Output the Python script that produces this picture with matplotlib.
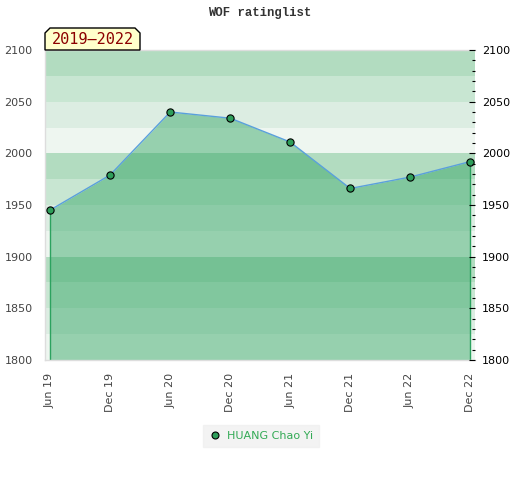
import datetime as dt
import matplotlib
matplotlib.use("Agg")
import matplotlib.pyplot as plt
from matplotlib.patches import Polygon
from matplotlib.lines import Line2D

# ratings
dates = [dt.date(2019, 6, 1), dt.date(2019, 12, 1), dt.date(2020, 6, 1), dt.date(2020, 12, 1),
         dt.date(2021, 6, 1), dt.date(2021, 12, 1), dt.date(2022, 6, 1), dt.date(2022, 12, 1)]
ratings = [1945, 1979, 2040, 2034, 2011, 1966, 1977, 1992]
tick_labels = ["Jun 19", "Dec 19", "Jun 20", "Dec 20", "Jun 21", "Dec 21", "Jun 22", "Dec 22"]
player = "HUANG Chao Yi"
period = "2019\u20132022"
title = "WOF ratinglist"

y_min, y_max = 1800, 2100
band_colors = ["#eef6f0", "#dcede2", "#c8e6d2", "#b2dcc0"]
fill_color = "#2ca25f"
line_color = "#5aa0dc"

fig = plt.figure(figsize=(5.2, 4.8), dpi=100)
ax = fig.add_axes([45 / 520, 120 / 480, 430 / 520, 310 / 480])

# striped background
for i, y0 in enumerate(range(y_min, y_max, 25)):
    ax.axhspan(y0, y0 + 25, color=band_colors[i % 4], lw=0, zorder=0)

# area under the curve
ax.fill_between(dates, ratings, y_min, color=fill_color, alpha=0.45, lw=0, zorder=1)
ax.vlines([dates[0], dates[-1]], y_min, [ratings[0], ratings[-1]], color=fill_color, lw=1, zorder=2)
ax.plot(dates, ratings, color=line_color, lw=1, zorder=3)
ax.plot(dates, ratings, ls="none", marker="o", ms=5.2, mfc="#2e9e5a", mec="black", mew=0.8, zorder=4)

ax.set_xlim(dates[0] - dt.timedelta(days=15), dates[-1] + dt.timedelta(days=15))
ax.set_ylim(y_min, y_max)
ax.set_xticks(dates)
ax.set_xticklabels(tick_labels, rotation=90)
ax.tick_params(axis="x", length=0, pad=9, labelsize=8, labelcolor="#444444")
ax.set_yticks(range(y_min, y_max + 1, 50))
ax.tick_params(axis="y", length=0, pad=9, labelsize=8, labelcolor="#444444")
for s in ax.spines.values():
    s.set_color("#dddddd")
    s.set_linewidth(1)
ax.spines["right"].set_visible(False)

ax2 = ax.twinx()
ax2.set_ylim(y_min, y_max)
ax2.set_yticks(range(y_min, y_max + 1, 50))
ax2.set_yticks(range(y_min, y_max + 1, 10), minor=True)
ax2.tick_params(axis="y", which="major", direction="in", length=4.5, width=0.8, pad=5,
                labelsize=8, labelcolor="black")
ax2.tick_params(axis="y", which="minor", direction="in", length=2.2, width=0.8)
for s in ax2.spines.values():
    s.set_visible(False)

fig.text(0.5, 1 - 13 / 480, title, ha="center", va="center", fontsize=8.8,
         family="Liberation Mono", weight="bold", color="#333333")

# period tag with chamfered top corners
px = [45, 45, 50, 135, 140, 140]
py = [50, 33, 28, 28, 33, 50]
tag = Polygon([(x / 520, 1 - y / 480) for x, y in zip(px, py)], closed=True,
              transform=fig.transFigure, facecolor="#ffffcc", edgecolor="black", lw=1)
fig.patches.append(tag)
fig.text(92.5 / 520, 1 - 40 / 480, period, ha="center", va="center", fontsize=11,
         family="DejaVu Sans Mono", color="#8b0000")

handle = Line2D([], [], ls="none", marker="o", ms=5, mfc="#2e9e5a", mec="black", mew=0.8)
leg = fig.legend([handle], [player], loc="center", bbox_to_anchor=(261 / 520, 1 - 436 / 480),
                 frameon=True, fontsize=8, handlelength=1, handletextpad=0.6,
                 borderpad=0.5, borderaxespad=0, fancybox=False)
leg.get_frame().set_facecolor("#f0f0f0")
leg.get_frame().set_edgecolor("#f0f0f0")
for t in leg.get_texts():
    t.set_color("#33aa55")

fig.savefig("out.png", dpi=100)
